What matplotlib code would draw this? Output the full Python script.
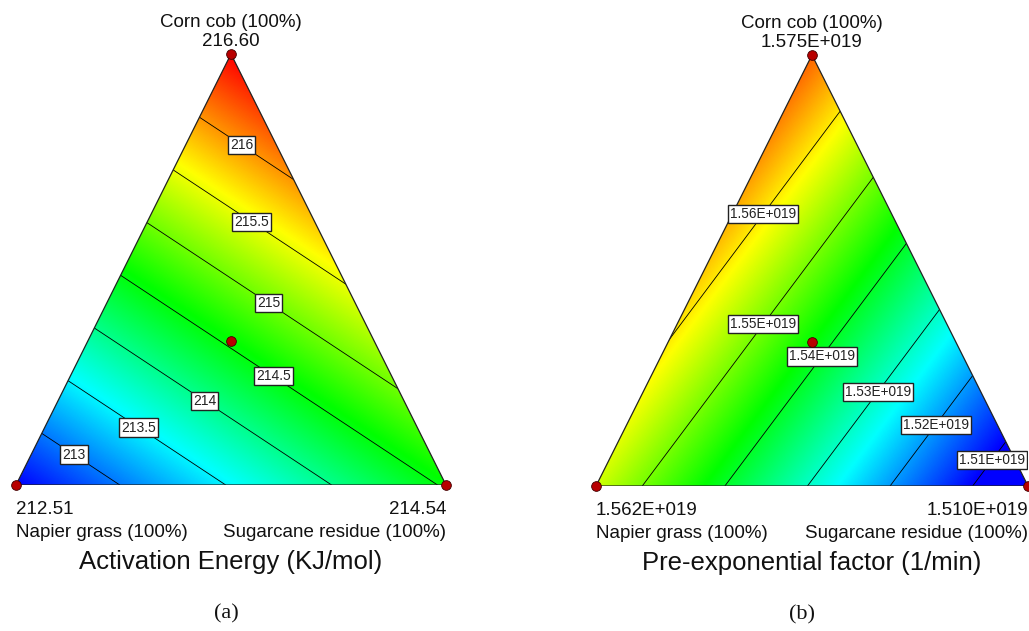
import numpy as np
import matplotlib
matplotlib.use('Agg')
import matplotlib.pyplot as plt
from matplotlib.colors import LinearSegmentedColormap
from matplotlib.patches import Polygon

# Component names (vertices: bottom-left, bottom-right, top)
components = ['Napier grass (100%)', 'Sugarcane residue (100%)', 'Corn cob (100%)']

# (a) Activation energy, KJ/mol - values at each pure-component vertex
ea_vertex = [212.51, 214.54, 216.60]
ea_vertex_txt = ['212.51', '214.54', '216.60']
ea_levels = [213.0, 213.5, 214.0, 214.5, 215.0, 215.5, 216.0]
ea_label_pos = [(0.142, 0.082), (0.295, 0.147), (0.447, 0.208), (0.607, 0.266),
                (0.598, 0.439), (0.560, 0.629), (0.537, 0.808)]

# (b) Pre-exponential factor (x1e19), fitted linear surface
pf_vertex = [1.5556, 1.5033, 1.5685]
pf_vertex_txt = ['1.562E+019', '1.510E+019', '1.575E+019']
pf_range = [1.510, 1.575]
pf_levels = [1.51, 1.52, 1.53, 1.54, 1.55, 1.56]
pf_label_pos = [(0.900, 0.072), (0.773, 0.151), (0.648, 0.223), (0.514, 0.307),
                (0.380, 0.381), (0.384, 0.633)]

jet = LinearSegmentedColormap.from_list(
    'de', ['#0000ff', '#00ffff', '#00ff00', '#ffff00', '#ff0000'])

tri = np.array([[0, 0], [1, 0], [0.5, 1]])


def ternary(ax, vertex, vmin, vmax, levels, label_pos, fmt, vtxt, title, letter, lblsize, lx):
    x = np.linspace(0, 1, 500)
    X, Y = np.meshgrid(x, x)
    c = Y
    b = X - 0.5 * Y
    a = 1 - b - c
    Z = vertex[0] * a + vertex[1] * b + vertex[2] * c

    patch = Polygon(tri, closed=True, fc='none', ec='#222222', lw=0.9, zorder=5)
    ax.add_patch(patch)
    im = ax.imshow(Z, extent=[0, 1, 0, 1], origin='lower', cmap=jet,
                   vmin=vmin, vmax=vmax, interpolation='bilinear', aspect='auto')
    im.set_clip_path(patch)
    cs = ax.contour(X, Y, Z, levels=levels, colors='k', linewidths=0.6)
    cs.set_clip_path(patch)
    labels = ax.clabel(cs, levels, inline=False, fmt=fmt, fontsize=lblsize,
                       manual=label_pos)
    for t in labels:
        t.set_rotation(0)
        t.set_color('#222222')
        t.set_family('Liberation Sans')
        t.set_bbox(dict(boxstyle='square,pad=0.15', fc='white', ec='#222222', lw=1.0))
        t.set_zorder(6)

    # design points: vertices and centroid
    px = list(tri[:, 0]) + [0.5]
    py = list(tri[:, 1]) + [1 / 3]
    ax.plot(px, py, 'o', ms=7, mfc='#b80000', mec='#400000', mew=0.6,
            clip_on=False, zorder=7)

    ax.set_xlim(0, 1)
    ax.set_ylim(0, 1)
    ax.axis('off')

    tk = dict(fontsize=13.5, family='Liberation Sans', color='#111111')
    ax.text(0.5, 1.072, components[2], ha='center', va='center', **tk)
    ax.text(0.5, 1.030, vtxt[2], ha='center', va='center', **tk)
    ax.text(0.0, -0.056, vtxt[0], ha='left', va='center', **tk)
    ax.text(0.0, -0.110, components[0], ha='left', va='center', **tk)
    ax.text(1.0, -0.056, vtxt[1], ha='right', va='center', **tk)
    ax.text(1.0, -0.110, components[1], ha='right', va='center', **tk)
    ax.text(0.5, -0.178, title, ha='center', va='center', fontsize=18.5,
            family='Liberation Sans', color='#111111')
    ax.text(lx, -0.30, letter, ha='center', va='center', fontsize=16,
            family='Liberation Serif', color='#111111')


fig = plt.figure(figsize=(10.29, 6.31), dpi=100)
W, H = 1029, 631

ax1 = fig.add_axes([16 / W, (H - 485) / H, 430 / W, 431 / H])
ternary(ax1, ea_vertex, min(ea_vertex), max(ea_vertex), ea_levels, ea_label_pos,
        lambda v: f'{v:g}', ea_vertex_txt, 'Activation Energy (KJ/mol)', '(a)', 10, 0.490)

ax2 = fig.add_axes([596 / W, (H - 486) / H, 432 / W, 431 / H])
ternary(ax2, pf_vertex, pf_range[0], pf_range[1], pf_levels, pf_label_pos,
        lambda v: f'{v:.2f}E+019', pf_vertex_txt, 'Pre-exponential factor (1/min)', '(b)', 9.8, 0.478)

fig.savefig('out.png', dpi=100, facecolor='white')
